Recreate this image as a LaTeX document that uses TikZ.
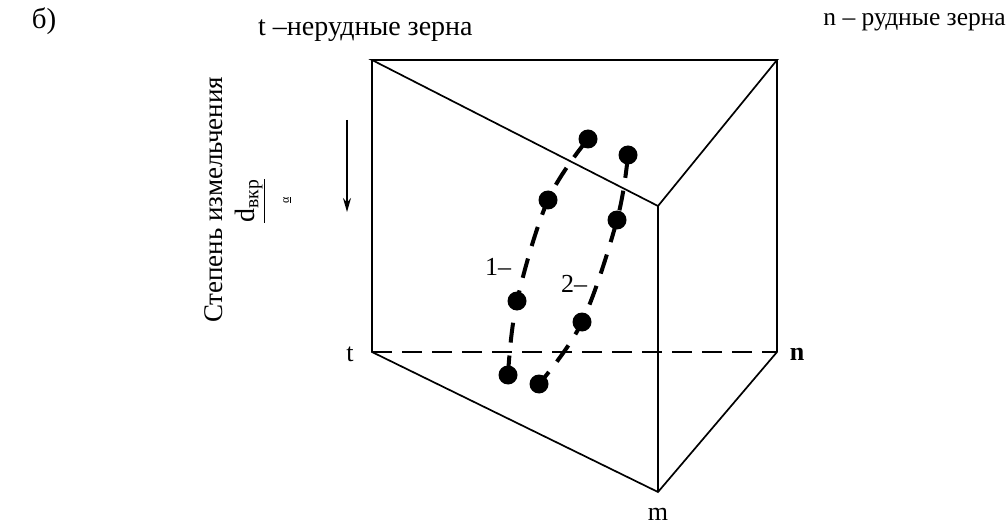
\documentclass[tikz,border=0pt]{standalone}
\usepackage{fontspec}
\setmainfont{Liberation Serif}
\usetikzlibrary{arrows.meta}
\begin{document}
\begin{tikzpicture}[x=1pt,y=-1pt,
  edge/.style={line width=1.7pt, line join=miter},
  curv/.style={line width=4pt, dash pattern=on 20pt off 13pt},
  dot/.style={circle, fill=black, inner sep=0pt, minimum size=19pt},
  lbl/.style={inner sep=0pt, font=\fontsize{26}{28}\selectfont}]
\useasboundingbox (0,0) rectangle (1008,526);
% prism vertices
\coordinate (A) at (372,60);
\coordinate (B) at (777,60);
\coordinate (C) at (658,206);
\coordinate (D) at (372,352);
\coordinate (E) at (777,352);
\coordinate (F) at (658,492);
\draw[edge] (A) -- (B) -- (C) -- cycle;
\draw[edge] (A) -- (D) -- (F) -- (E) -- (B);
\draw[edge] (C) -- (F);
\draw[line width=1.7pt, dash pattern=on 20pt off 10pt] (D) -- (E);
% curves
\node[dot] (a1) at (588,139) {};
\node[dot] (a2) at (548,200) {};
\node[dot] (a3) at (517,301) {};
\node[dot] (a4) at (508,375) {};
\node[dot] (b1) at (628,155) {};
\node[dot] (b2) at (617,220) {};
\node[dot] (b3) at (582,322) {};
\node[dot] (b4) at (539,384) {};
\draw[curv, dash phase=-3pt] plot[smooth, tension=0.6] coordinates {(a1.center) (a2.center) (a3.center) (a4.center)};
\draw[curv, dash phase=-3pt] plot[smooth, tension=0.6] coordinates {(b1.center) (b2.center) (b3.center) (b4.center)};
\node[lbl] (l1) at (498,267) {1–};
\node[lbl] (l2) at (574,284) {2–};
% labels
\node[lbl, font=\fontsize{29}{31}\selectfont] (b) at (44,21) {б)};
\node[lbl, anchor=west, font=\fontsize{28}{30}\selectfont] (tt) at (258,31) {t –нерудные зерна};
\node[lbl, anchor=east, font=\fontsize{25.5}{28}\selectfont] (nt) at (1006,22) {n – рудные зерна};
\node[lbl] (tv) at (350,354) {t};
\node[lbl, font=\fontsize{26}{28}\selectfont\bfseries] (nv) at (797,354) {n};
\node[lbl] (mv) at (658,514) {m};
\node[lbl, rotate=90, font=\fontsize{27}{29}\selectfont] (st) at (214,200) {Степень измельчения};
\node[lbl, rotate=90, font=\fontsize{28}{30}\selectfont] (dv) at (250,201) {\underline{d\textsubscript{вкр}}};
\node[lbl, rotate=90, font=\fontsize{12}{13}\selectfont] (al) at (287,200) {\underline{α}};
\coordinate (ar1) at (347,120);
\coordinate (ar2) at (347,212);
\draw[line width=1.5pt, -{Stealth[length=14pt,width=8pt]}] (ar1) -- (ar2);
\end{tikzpicture}
\end{document}
